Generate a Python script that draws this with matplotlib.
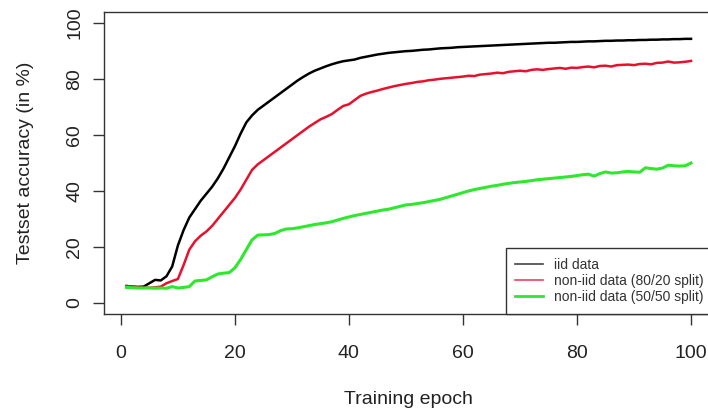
import matplotlib
matplotlib.use("Agg")
import matplotlib.pyplot as plt
from matplotlib.lines import Line2D

plt.rcParams['font.family'] = ['Liberation Sans', 'DejaVu Sans']

epochs = list(range(1, 101))

iid = [6.0, 5.8, 5.7, 5.8, 7.0, 8.2, 8.0, 9.5, 13.0, 20.5,
       26.0, 30.5, 33.5, 36.5, 39.0, 41.5, 44.5, 48.0, 52.0, 56.0,
       60.5, 64.5, 67.0, 69.0, 70.5, 72.0, 73.5, 75.0, 76.5, 78.0,
       79.5, 80.8, 82.0, 83.0, 83.8, 84.6, 85.3, 85.9, 86.4, 86.7,
       87.0, 87.6, 88.0, 88.4, 88.8, 89.1, 89.4, 89.6, 89.8, 90.0,
       90.1, 90.3, 90.5, 90.6, 90.8, 91.0, 91.1, 91.2, 91.4, 91.5,
       91.6, 91.7, 91.8, 91.9, 92.0, 92.1, 92.2, 92.3, 92.4, 92.5,
       92.6, 92.7, 92.8, 92.9, 93.0, 93.0, 93.1, 93.2, 93.3, 93.3,
       93.4, 93.5, 93.5, 93.6, 93.7, 93.7, 93.8, 93.8, 93.9, 93.9,
       94.0, 94.0, 94.1, 94.1, 94.2, 94.2, 94.3, 94.3, 94.4, 94.4]

noniid_80_20 = [6.0, 5.8, 5.5, 5.4, 5.4, 5.5, 5.8, 7.0, 7.8, 8.5,
                13.5, 19.0, 22.0, 24.0, 25.5, 27.5, 30.0, 32.5, 35.0, 37.5,
                40.5, 44.0, 47.5, 49.5, 51.0, 52.5, 54.0, 55.5, 57.0, 58.5,
                60.0, 61.5, 63.0, 64.3, 65.6, 66.5, 67.5, 69.0, 70.4, 71.0,
                72.5, 74.0, 74.8, 75.4, 75.9, 76.5, 77.0, 77.5, 77.9, 78.3,
                78.6, 79.0, 79.2, 79.6, 79.8, 80.1, 80.3, 80.5, 80.7, 80.9,
                81.2, 81.1, 81.6, 81.8, 82.0, 82.3, 82.1, 82.6, 82.8, 83.0,
                82.8, 83.3, 83.5, 83.3, 83.6, 83.8, 84.0, 83.7, 84.1, 84.0,
                84.3, 84.5, 84.2, 84.7, 84.8, 84.5, 85.0, 85.1, 85.2, 85.0,
                85.4, 85.5, 85.3, 85.8, 85.9, 86.3, 85.9, 86.0, 86.2, 86.5]

noniid_50_50 = [5.5, 5.4, 5.3, 5.3, 5.3, 5.2, 5.3, 5.2, 5.8, 5.3,
                5.5, 5.8, 7.8, 8.0, 8.2, 9.3, 10.3, 10.6, 10.8, 12.5,
                15.5, 19.0, 22.5, 24.2, 24.3, 24.4, 24.8, 25.8, 26.4, 26.5,
                26.8, 27.2, 27.6, 28.0, 28.3, 28.6, 29.0, 29.6, 30.2, 30.7,
                31.2, 31.6, 32.0, 32.4, 32.8, 33.2, 33.5, 34.0, 34.5, 35.0,
                35.2, 35.5, 35.8, 36.2, 36.6, 37.0, 37.6, 38.2, 38.8, 39.4,
                40.0, 40.5, 40.9, 41.3, 41.7, 42.0, 42.4, 42.7, 43.0, 43.2,
                43.4, 43.7, 44.0, 44.2, 44.4, 44.6, 44.8, 45.0, 45.2, 45.5,
                45.8, 46.0, 45.3, 46.2, 46.8, 46.4, 46.5, 46.8, 47.0, 46.8,
                46.7, 48.3, 48.0, 47.8, 48.2, 49.2, 49.0, 48.9, 49.0, 50.0]

labels = ["iid data", "non-iid data (80/20 split)", "non-iid data (50/50 split)"]
x_ticks = [0, 20, 40, 60, 80, 100]
y_ticks = [0, 20, 40, 60, 80, 100]

W, H = 708, 415
fig = plt.figure(figsize=(W / 100, H / 100), dpi=100)
left, right, top, bottom = 104, 713.6, 12, 314
ax = fig.add_axes([left / W, 1 - bottom / H, (right - left) / W, (bottom - top) / H])

c_black = '#000000'
c_red = '#e8112d'
c_green = '#2ee82e'

ax.plot(epochs, iid, color=c_black, lw=1.8, solid_joinstyle='round')
ax.plot(epochs, noniid_80_20, color=c_red, lw=1.8, solid_joinstyle='round')
ax.plot(epochs, noniid_50_50, color=c_green, lw=2.2, solid_joinstyle='round')

ax.set_xlim(-2.96, 103.96)
ax.set_ylim(-4, 104)
ax.set_xticks(x_ticks)
ax.set_yticks(y_ticks)
ax.set_xticklabels([str(v) for v in x_ticks])
ax.set_yticklabels([str(v) for v in y_ticks], rotation=90, va='center')

for s in ax.spines.values():
    s.set_color('#333333')
    s.set_linewidth(1.0)

ax.tick_params(axis='both', direction='out', length=8, width=1.0, color='#333333',
               labelsize=14, labelcolor='#222222')
ax.tick_params(axis='x', pad=14)
ax.tick_params(axis='y', pad=7)

ax.set_xlabel("Training epoch", fontsize=14, color='#222222', va='center')
ax.xaxis.set_label_coords(0.5, (bottom - 399) / (bottom - top))
ax.set_ylabel("Testset accuracy (in %)", fontsize=14, color='#222222', va='center')
ax.yaxis.set_label_coords((26 - left) / (right - left), 0.5)

handles = [Line2D([], [], color='#444444', lw=1.2),
           Line2D([], [], color='#f04060', lw=1.2),
           Line2D([], [], color=c_green, lw=2.0)]
leg = ax.legend(handles, labels, loc='lower right', borderaxespad=0,
                fontsize=10, frameon=True, fancybox=False, framealpha=1,
                handlelength=2.0, handletextpad=0.8, labelspacing=0.15,
                borderpad=0.7)
leg.get_frame().set_edgecolor('#333333')
leg.get_frame().set_linewidth(1.0)
for t in leg.get_texts():
    t.set_color('#333333')

fig.savefig("out.png", dpi=100)
